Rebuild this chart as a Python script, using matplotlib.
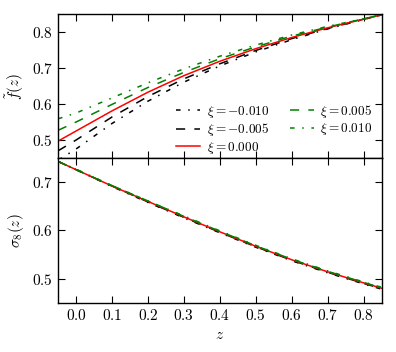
import numpy as np
import matplotlib
matplotlib.use('Agg')
import matplotlib.pyplot as plt
from matplotlib.ticker import FuncFormatter

plt.rcParams['mathtext.fontset'] = 'cm'
plt.rcParams['font.family'] = 'serif'
plt.rcParams['font.serif'] = ['DejaVu Serif']
plt.rcParams['font.size'] = 9

# redshift grid
z = [-0.05, 0.0, 0.1, 0.2, 0.3, 0.4, 0.5, 0.6, 0.7, 0.8, 0.85]

# growth rate f(z) for each xi
f_m010 = [0.444, 0.475, 0.546, 0.608, 0.661, 0.706, 0.745, 0.779, 0.809, 0.835, 0.848]
f_m005 = [0.470, 0.500, 0.564, 0.621, 0.670, 0.712, 0.749, 0.782, 0.810, 0.836, 0.848]
f_000 = [0.497, 0.525, 0.581, 0.633, 0.679, 0.719, 0.754, 0.785, 0.812, 0.836, 0.848]
f_p005 = [0.527, 0.550, 0.599, 0.646, 0.688, 0.726, 0.759, 0.789, 0.814, 0.837, 0.848]
f_p010 = [0.559, 0.575, 0.617, 0.659, 0.698, 0.733, 0.764, 0.792, 0.816, 0.837, 0.848]

# sigma_8(z) for each xi
s_m010 = [0.743, 0.726, 0.691, 0.658, 0.626, 0.595, 0.565, 0.537, 0.512, 0.489, 0.478]
s_m005 = [0.743, 0.726, 0.692, 0.659, 0.627, 0.596, 0.566, 0.538, 0.513, 0.490, 0.479]
s_000 = [0.743, 0.726, 0.692, 0.660, 0.628, 0.597, 0.567, 0.539, 0.514, 0.491, 0.480]
s_p005 = [0.743, 0.726, 0.693, 0.661, 0.629, 0.598, 0.568, 0.540, 0.515, 0.492, 0.481]
s_p010 = [0.743, 0.727, 0.693, 0.661, 0.630, 0.599, 0.569, 0.541, 0.516, 0.493, 0.482]

labels = [r'$\xi = -0.010$', r'$\xi = -0.005$', r'$\xi = 0.000$',
          r'$\xi = 0.005$', r'$\xi = 0.010$']
colors = ['k', 'k', 'r', 'g', 'g']
# old-style dash patterns
styles = [(0, (3, 5, 1, 5)), (0, (6, 6)), '-', (0, (6, 6)), (0, (3, 5, 1, 5))]

fig = plt.figure(figsize=(3.96, 3.52), dpi=100)
ax1 = fig.add_axes([0.1465, 0.551, 0.8175, 0.409])
ax2 = fig.add_axes([0.1465, 0.140, 0.8175, 0.411])

fs = [f_m010, f_m005, f_000, f_p005, f_p010]
ss = [s_m010, s_m005, s_000, s_p005, s_p010]
for fv, sv, lab, c, ls in zip(fs, ss, labels, colors, styles):
    ax1.plot(z, fv, color=c, ls=ls, lw=1.1, label=lab)
    ax2.plot(z, sv, color=c, ls=ls, lw=1.1, label=lab)

fmt = FuncFormatter(lambda v, p: r'$%.1f$' % v)
for ax in [ax1, ax2]:
    ax.set_xlim(-0.05, 0.85)
    ax.set_xticks([0.0, 0.1, 0.2, 0.3, 0.4, 0.5, 0.6, 0.7, 0.8])
    ax.tick_params(direction='in', top=True, right=True, length=5, width=0.8, labelsize=11)
    ax.xaxis.set_major_formatter(fmt)
    ax.yaxis.set_major_formatter(fmt)
    for sp in ax.spines.values():
        sp.set_linewidth(1.0)

ax1.set_ylim(0.45, 0.85)
ax1.set_yticks([0.5, 0.6, 0.7, 0.8])
ax1.tick_params(labelbottom=False)
ax1.set_ylabel(r'$\tilde{f}(z)$', fontsize=11)
ax1.legend(loc='upper left', ncol=2, frameon=False, fontsize=9.5,
           handlelength=1.8, handletextpad=0.5, columnspacing=1.6,
           labelspacing=0.12, borderaxespad=0, borderpad=0,
           bbox_to_anchor=(0.365, 0.385))

ax2.set_ylim(0.45, 0.75)
ax2.set_yticks([0.5, 0.6, 0.7])
ax2.set_ylabel(r'$\sigma_8(z)$', fontsize=11)
ax2.set_xlabel(r'$z$', fontsize=11)

fig.savefig('out.png', dpi=100)
